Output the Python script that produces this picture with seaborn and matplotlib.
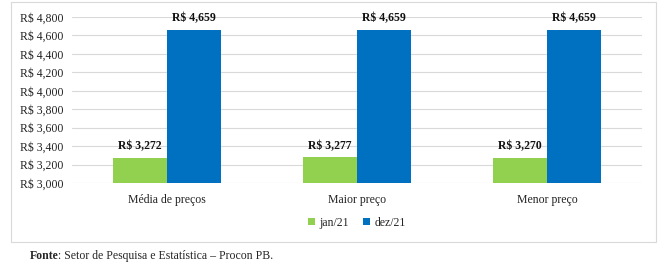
import matplotlib
matplotlib.use("Agg")
import matplotlib.pyplot as plt
import seaborn as sns
import pandas as pd
from matplotlib.patches import Rectangle
from matplotlib.ticker import FuncFormatter

categories = ["Média de preços", "Maior preço", "Menor preço"]
series_names = ["jan/21", "dez/21"]
jan21 = [3272, 3277, 3270]
dez21 = [4659, 4659, 4659]
yticks = [3000, 3200, 3400, 3600, 3800, 4000, 4200, 4400, 4600, 4800]
colors = ["#92D050", "#0070C0"]

df = pd.DataFrame({
    "cat": categories * 2,
    "serie": [series_names[0]] * 3 + [series_names[1]] * 3,
    "valor": jan21 + dez21,
})

sns.set_theme(style="white")
plt.rcParams["font.family"] = ["Liberation Serif", "DejaVu Serif"]

fig = plt.figure(figsize=(6.7, 2.74), dpi=100)
ax = fig.add_axes([0.1075, 0.332, 0.8505, 0.606])

sns.barplot(data=df, x="cat", y="valor", hue="serie", palette=colors,
            width=0.57, ax=ax, saturation=1, legend=True, linewidth=0)

ax.set_ylim(3000, 4800)
ax.set_xlim(-0.5, 2.5)
ax.set_yticks(yticks)
ax.yaxis.set_major_formatter(FuncFormatter(lambda v, p: f"R$ {int(v):,}"))
ax.grid(axis="y", color="#D9D9D9", linewidth=0.8)
ax.set_axisbelow(True)
for s in ax.spines.values():
    s.set_visible(False)
ax.tick_params(axis="y", labelsize=8.5, length=0, pad=6, colors="#222222")
ax.tick_params(axis="x", labelsize=8.5, length=0, pad=8, colors="#222222")
ax.set_xlabel("")
ax.set_ylabel("")

for cont in ax.containers:
    labels = [f"R$ {int(v):,}" for v in cont.datavalues]
    ax.bar_label(cont, labels=labels, padding=4, fontsize=8.5,
                 fontweight="bold", color="#111111")

ax.legend(loc="center", bbox_to_anchor=(0.5, -0.24), ncol=2, frameon=False,
          fontsize=8.5, handlelength=0.6, handleheight=0.6, columnspacing=1.2,
          handletextpad=0.4)

fig.patches.append(Rectangle((11 / 670, 1 - 242 / 274), 645 / 670, 240 / 274,
                             transform=fig.transFigure, fill=False,
                             edgecolor="#D9D9D9", linewidth=0.8))

fig.text(30 / 670, 1 - 256 / 274, "Fonte", fontsize=8.5, fontweight="bold",
         va="center", ha="left")
fig.text(58 / 670, 1 - 256 / 274, ": Setor de Pesquisa e Estatística – Procon PB.",
         fontsize=8.5, va="center", ha="left")

fig.savefig("out.png", dpi=100)
